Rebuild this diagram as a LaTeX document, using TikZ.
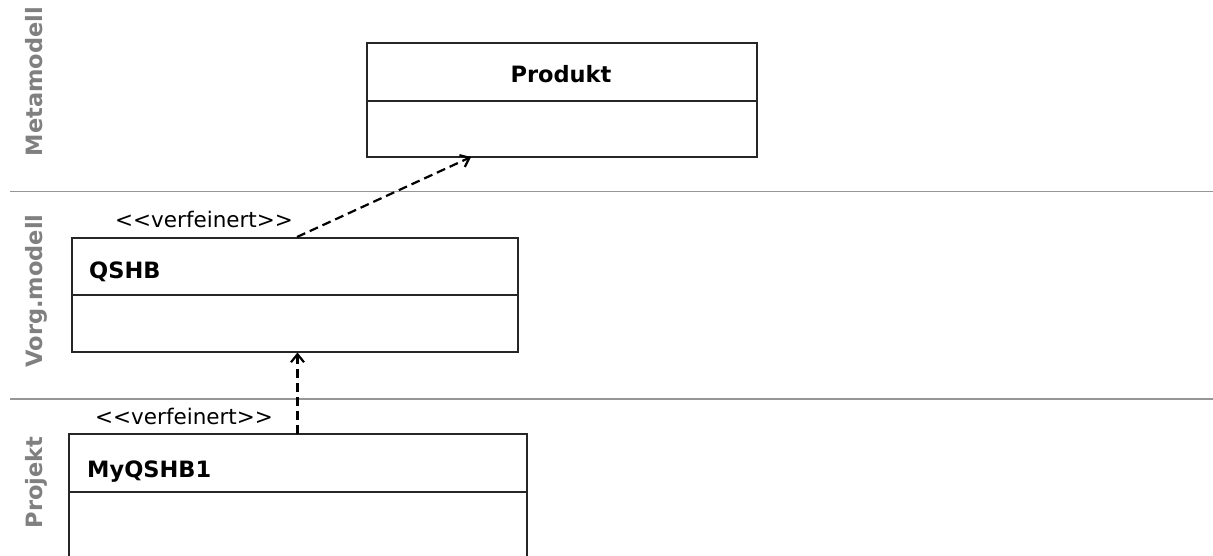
\documentclass[tikz,border=0pt]{standalone}
\usepackage{fontspec}
\setmainfont{DejaVu Sans}
\usetikzlibrary{arrows.meta}
\definecolor{lanegray}{RGB}{128,128,128}
\definecolor{sepgray}{RGB}{150,150,150}
\tikzset{
  classbox/.style={draw=black!85, line width=2.1pt, inner sep=0pt},
  title/.style={inner sep=0pt, font=\fontsize{22.5}{24}\selectfont\bfseries},
  stereo/.style={inner sep=0pt, font=\fontsize{21.5}{23}\selectfont},
  lanelabel/.style={inner sep=0pt, rotate=90, anchor=base, text=lanegray, font=\fontsize{22.5}{24}\selectfont\bfseries},
  sepline/.style={draw=sepgray, line width=1.6pt},
  refine/.style={draw=black, line width=2.2pt, dash pattern=on 9pt off 5pt, -{Straight Barb[length=8pt,width=13pt,line width=2.2pt]}}
}
\begin{document}
\begin{tikzpicture}[x=1pt,y=-1pt]
\useasboundingbox (0,0) rectangle (1213,555);
\clip (0,0) rectangle (1213,555);
% lane separators
\draw[sepline] (10,191.5) -- (1213,191.5);
\draw[sepline] (10,399) -- (1213,399);
% lane labels
\node[lanelabel] (lm) at (42,81.5) {Metamodell};
\node[lanelabel] (lv) at (42,291) {Vorg.modell};
\node[lanelabel] (lp) at (42,482.5) {Projekt};
% Produkt
\node[classbox, minimum width=390pt, minimum height=114pt] (produkt) at (562,100) {};
\draw[classbox] (produkt.west |- 0,101) -- (produkt.east |- 0,101);
\node[title, anchor=base] (produktT) at (561,82) {Produkt};
% QSHB
\node[classbox, minimum width=446pt, minimum height=114pt] (qshb) at (295,295) {};
\draw[classbox] (qshb.west |- 0,295) -- (qshb.east |- 0,295);
\node[title, anchor=base west] (qshbT) at (89,278) {QSHB};
% MyQSHB1
\node[classbox, minimum width=458pt, minimum height=140pt] (my) at (298,504) {};
\draw[classbox] (my.west |- 0,492) -- (my.east |- 0,492);
\node[title, anchor=base west] (myT) at (87,477) {MyQSHB1};
% connectors
\coordinate (a1s) at (297,237);
\coordinate (a1e) at (471,157);
\draw[refine] (a1s) -- (a1e);
\node[stereo, anchor=base west] (st1) at (115,227) {{<}{<}verfeinert{>}{>}};
\coordinate (a2s) at (297.5,434);
\coordinate (a2e) at (297.5,352.5);
\draw[refine] (a2s) -- (a2e);
\node[stereo, anchor=base west] (st2) at (95,424) {{<}{<}verfeinert{>}{>}};
\end{tikzpicture}
\end{document}
